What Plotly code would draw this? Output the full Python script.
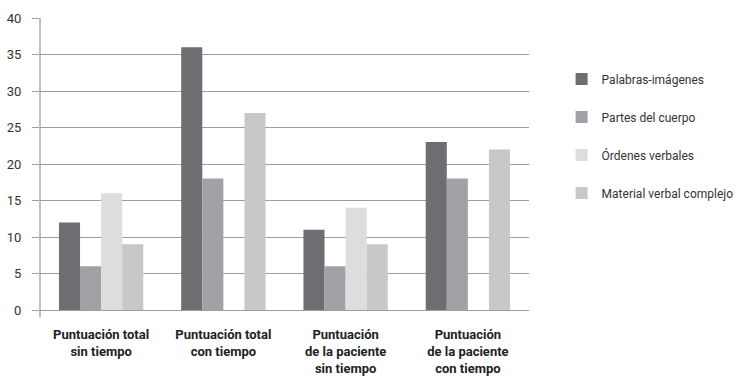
import plotly.graph_objects as go

# Categories and scores per test type
categories = [
    "Puntuación total<br>sin tiempo",
    "Puntuación total<br>con tiempo",
    "Puntuación<br>de la paciente<br>sin tiempo",
    "Puntuación<br>de la paciente<br>con tiempo",
]
series_names = [
    "Palabras-imágenes",
    "Partes del cuerpo",
    "Órdenes verbales",
    "Material verbal complejo",
]
palabras_imagenes = [12, 36, 11, 23]
partes_cuerpo = [6, 18, 6, 18]
ordenes_verbales = [16, None, 14, None]
material_verbal = [9, 27, 9, 22]
y_ticks = [0, 5, 10, 15, 20, 25, 30, 35, 40]

series_values = [palabras_imagenes, partes_cuerpo, ordenes_verbales, material_verbal]
colors = ["#6d6e71", "#a1a2a5", "#dcdddf", "#c7c8ca"]

FONT = "Roboto, Liberation Sans Narrow, sans-serif"
GRID = "#9d9d9d"

fig = go.Figure()
for i, (name, vals, col) in enumerate(zip(series_names, series_values, colors)):
    fig.add_trace(go.Bar(
        x=categories, y=vals, name=name,
        marker=dict(color=col, line=dict(width=0)),
        legendgroup=f"g{i}",
    ))

fig.update_layout(
    width=737, height=391,
    margin=dict(l=40, r=208, t=18, b=81),
    paper_bgcolor="white", plot_bgcolor="white",
    barmode="group", bargap=0.31, bargroupgap=0,
    font=dict(family=FONT, size=12, color="#333333"),
    showlegend=True,
    legend=dict(
        xref="container", yref="container",
        x=0.762, y=0.835, xanchor="left", yanchor="top",
        font=dict(family=FONT, size=12, color="#333333"),
        traceorder="grouped", tracegroupgap=19,
        bgcolor="rgba(0,0,0,0)",
    ),
    xaxis=dict(
        showgrid=False, showline=False, ticks="",
        tickangle=0, automargin=False,
        tickfont=dict(family=FONT, size=13, color="#222222", weight="bold"),
        ticklabelstandoff=15,
    ),
    yaxis=dict(
        range=[0, 40], tickvals=y_ticks, automargin=False,
        showgrid=True, gridcolor=GRID, gridwidth=1.3,
        zeroline=True, zerolinecolor=GRID, zerolinewidth=1.3,
        ticks="outside", ticklen=7, tickcolor=GRID, tickwidth=1.3,
        tickfont=dict(family=FONT, size=13, color="#333333"),
        ticklabelstandoff=8,
        showline=False,
    ),
)

# Vertical axis line, running slightly below the zero line
fig.add_shape(type="line", xref="paper", yref="paper",
              x0=0, x1=0, y0=-0.026, y1=1.0,
              line=dict(color=GRID, width=1.3), layer="above")

fig.write_html("out.html")
